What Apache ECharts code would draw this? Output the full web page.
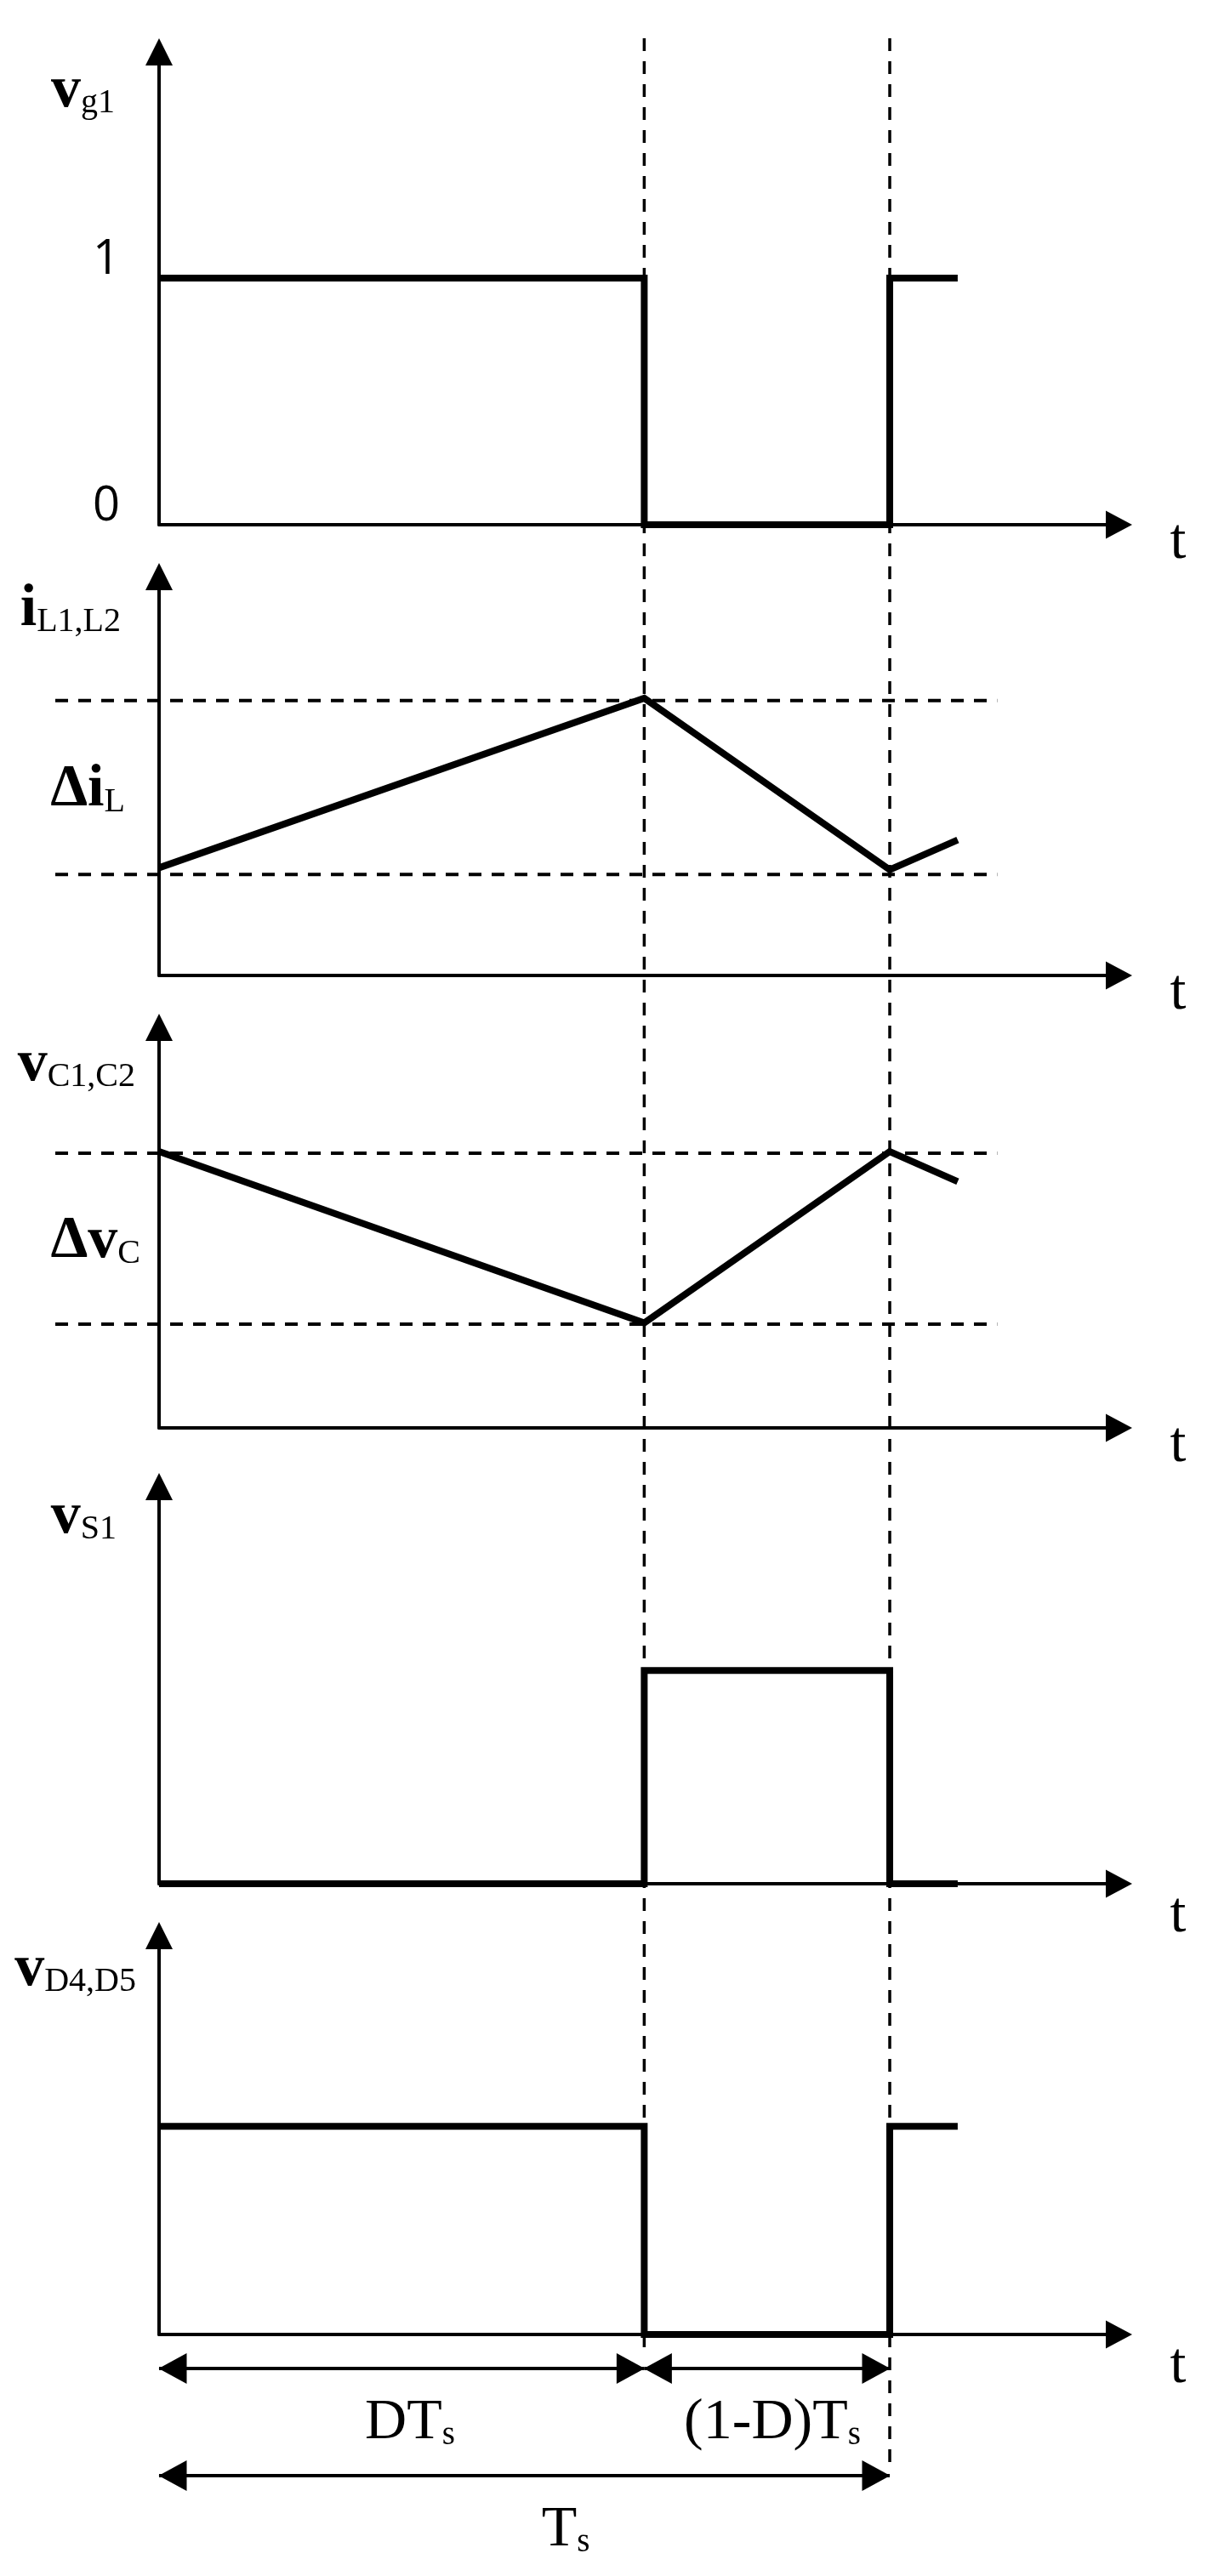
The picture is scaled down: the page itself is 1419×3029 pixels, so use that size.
<!DOCTYPE html>
<html><head><meta charset="utf-8">
<script src="https://cdn.jsdelivr.net/npm/echarts@6/dist/echarts.min.js"></script>
<style>html,body{margin:0;padding:0;background:#fff}#c{width:1419px;height:3029px}</style>
</head><body><div id="c"></div>
<script>
// ---------------- data (time in units of Ts, levels in panel units) ----------------
const D = 0.664;          // duty ratio
const TS = 1;             // one switching period
const T_END = 1.093;      // waveforms stop a little after Ts
const T_MAX = 1.3137;     // end of the time axes
const T_GUIDE_START = -0.142;
const T_GUIDE_END = 1.147;

const vg1Time = [0, D, D, TS, TS, T_END];
const vg1Val  = [1, 1, 0, 0, 1, 1];
const vg1TickLabels = [0, 1];

const iLTime = [0, D, TS, T_END];
const iLVal  = [0.27, 0.695, 0.265, 0.34];
const iLLevels = [0.689, 0.253];

const vCTime = [0, D, TS, T_END];
const vCVal  = [0.69, 0.262, 0.69, 0.615];
const vCLevels = [0.686, 0.259];

const vS1Time = [0, D, D, TS, TS, T_END];
const vS1Val  = [0, 0, 0.537, 0.537, 0, 0];

const vDTime = [0, D, D, TS, TS, T_END];
const vDVal  = [0.522, 0.522, 0, 0, 0.522, 0.522];

const guideTimes = [D, TS];
const dimSpans = [[0, D], [D, TS], [0, TS]];
const axisNames = ['{m|v}{s|g1}', '{m|i}{s|L1,L2}', '{m|v}{s|C1,C2}', '{m|v}{s|S1}', '{m|v}{s|D4,D5}'];
const deltaLabels = ['{m|Δi}{s|L}', '{m|Δv}{s|C}'];
const dimLabels = ['{m|DT}{s|s}', '{m|(1-D)T}{s|s}', '{m|T}{s|s}'];

// ---------------- layout ----------------
const W = 1419, H = 3029;
const AX_LEFT = 187, AX_RIGHT = 1315.5;
const PX_PER_T = (AX_RIGHT - AX_LEFT) / T_MAX;
const panels = [
  {top: 61,   axis: 617,  ymax: 1.917, gap: -12, pad: 52, tLH: 42, time: vg1Time, val: vg1Val},
  {top: 678,  axis: 1147, ymax: 1, gap: -5,  pad: 45, tLH: 42, time: iLTime, val: iLVal, levels: iLLevels},
  {top: 1208, axis: 1679, ymax: 1, gap: -10, pad: 28, tLH: 42, time: vCTime, val: vCVal, levels: vCLevels},
  {top: 1748, axis: 2215, ymax: 1, gap: -2,  pad: 50, tLH: 76, time: vS1Time, val: vS1Val},
  {top: 2276, axis: 2745, ymax: 1, gap: -6,  pad: 27, tLH: 76, time: vDTime, val: vDVal}
];
const SERIF = 'Liberation Serif';
const richBold = {
  m: {fontFamily: SERIF, fontSize: 70, fontWeight: 'bold', lineHeight: 68, color: '#000', fill: '#000'},
  s: {fontFamily: SERIF, fontSize: 40, lineHeight: 33, verticalAlign: 'bottom', color: '#000', fill: '#000'}
};
const richReg = {
  m: {fontFamily: SERIF, fontSize: 68, lineHeight: 68, color: '#000', fill: '#000'},
  s: {fontFamily: SERIF, fontSize: 39, lineHeight: 33, verticalAlign: 'bottom', color: '#000', fill: '#000'}
};

const grids = [], xAxes = [], yAxes = [], series = [];
const axisLineStyle = {color: '#000', width: 4};

panels.forEach((p, i) => {
  grids.push({left: AX_LEFT, right: W - AX_RIGHT, top: p.top, bottom: H - p.axis});
  xAxes.push({
    gridIndex: i, type: 'value', min: 0, max: T_MAX,
    axisLine: {show: true, onZero: true, symbol: ['none', 'triangle'], symbolSize: [33, 31], lineStyle: axisLineStyle},
    axisTick: {show: false}, axisLabel: {show: false}, splitLine: {show: false},
    name: 't', nameLocation: 'end', nameGap: 60,
    nameTextStyle: {fontFamily: SERIF, fontSize: 68, color: '#000', verticalAlign: 'top', lineHeight: p.tLH}
  });
  const yA = {
    gridIndex: i, type: 'value', min: 0, max: p.ymax,
    axisLine: {show: true, symbol: ['none', 'triangle'], symbolSize: [32, 32], lineStyle: axisLineStyle},
    axisTick: {show: false}, splitLine: {show: false},
    axisLabel: {show: false},
    name: axisNames[i], nameLocation: 'end', nameGap: p.gap,
    nameTextStyle: {align: 'right', verticalAlign: 'top', padding: [0, p.pad, 0, 0], rich: richBold}
  };
  if (i === 0) {
    yA.interval = 1;
    yA.axisLabel = {
      show: true, margin: 46, color: '#000', fontFamily: 'Open Sans', fontSize: 56,
      verticalAlign: 'bottom', lineHeight: 42,
      formatter: v => (vg1TickLabels.indexOf(v) >= 0 ? String(v) : '')
    };
  }
  yAxes.push(yA);
  series.push({
    type: 'line', xAxisIndex: i, yAxisIndex: i, z: 5, symbol: 'none', silent: true,
    lineStyle: {color: '#000', width: 8, join: 'miter'},
    data: p.time.map((t, k) => [t, p.val[k]])
  });
});

// horizontal dashed level guides (panels 2 and 3), in helper grids sharing the panel y scale
const dashStyle = {color: '#000', width: 4, type: [15, 12]};
[1, 2].forEach(pi => {
  const p = panels[pi];
  const gi = grids.length;
  grids.push({left: AX_LEFT + T_GUIDE_START * PX_PER_T, right: W - AX_RIGHT, top: p.top, bottom: H - p.axis});
  xAxes.push({gridIndex: gi, type: 'value', min: T_GUIDE_START, max: T_MAX, show: false});
  yAxes.push({gridIndex: gi, type: 'value', min: 0, max: p.ymax, show: false});
  p.levels.forEach(lv => {
    series.push({
      type: 'line', xAxisIndex: gi, yAxisIndex: gi, z: 1, symbol: 'none', silent: true,
      lineStyle: dashStyle, data: [[T_GUIDE_START, lv], [T_GUIDE_END, lv]]
    });
  });
});

// overlay grid spanning the whole page: same time scale, y in page pixels
const OV = grids.length;
grids.push({left: AX_LEFT, right: W - AX_RIGHT, top: 0, bottom: 0});
xAxes.push({gridIndex: OV, type: 'value', min: 0, max: T_MAX, show: false});
yAxes.push({gridIndex: OV, type: 'value', min: 0, max: H, inverse: true, show: false});
const GUIDE_TOP = 45;
const guideBottoms = [2767, 2900];
guideTimes.forEach((t, k) => {
  series.push({
    type: 'line', xAxisIndex: OV, yAxisIndex: OV, z: 1, symbol: 'none', silent: true,
    lineStyle: {color: '#000', width: 3.5, type: [15, 12]}, data: [[t, GUIDE_TOP], [t, guideBottoms[k]]]
  });
});
const dimRows = [2785, 2785, 2911];
series.push({
  type: 'line', xAxisIndex: OV, yAxisIndex: OV, z: 4, symbol: 'none', silent: true, data: [],
  markLine: {
    silent: true, animation: false,
    symbol: ['triangle', 'triangle'], symbolSize: [36, 33], symbolOffset: [[0, 16], [0, 16]],
    lineStyle: {color: '#000', width: 4, type: 'solid'},
    itemStyle: {color: '#000'},
    label: {show: false}, emphasis: {disabled: true},
    data: dimSpans.map((s, k) => [{coord: [s[0], dimRows[k]]}, {coord: [s[1], dimRows[k]]}])
  }
});

const graphic = [
  {type: 'text', x: 147, y: 895, style: {text: deltaLabels[0], rich: richBold, align: 'right', textAlign: 'right', verticalAlign: 'top', textVerticalAlign: 'top'}},
  {type: 'text', x: 165, y: 1426, style: {text: deltaLabels[1], rich: richBold, align: 'right', textAlign: 'right', verticalAlign: 'top', textVerticalAlign: 'top'}},
  {type: 'text', x: 482, y: 2815, style: {text: dimLabels[0], rich: richReg, align: 'center', textAlign: 'center', verticalAlign: 'top', textVerticalAlign: 'top'}},
  {type: 'text', x: 908, y: 2815, style: {text: dimLabels[1], rich: richReg, align: 'center', textAlign: 'center', verticalAlign: 'top', textVerticalAlign: 'top'}},
  {type: 'text', x: 665, y: 2941, style: {text: dimLabels[2], rich: richReg, align: 'center', textAlign: 'center', verticalAlign: 'top', textVerticalAlign: 'top'}}
];

const chart = echarts.init(document.getElementById('c'), null, {renderer: 'canvas', width: W, height: H});
chart.setOption({
  backgroundColor: '#fff', animation: false,
  grid: grids, xAxis: xAxes, yAxis: yAxes, series: series, graphic: graphic
});
</script></body></html>
